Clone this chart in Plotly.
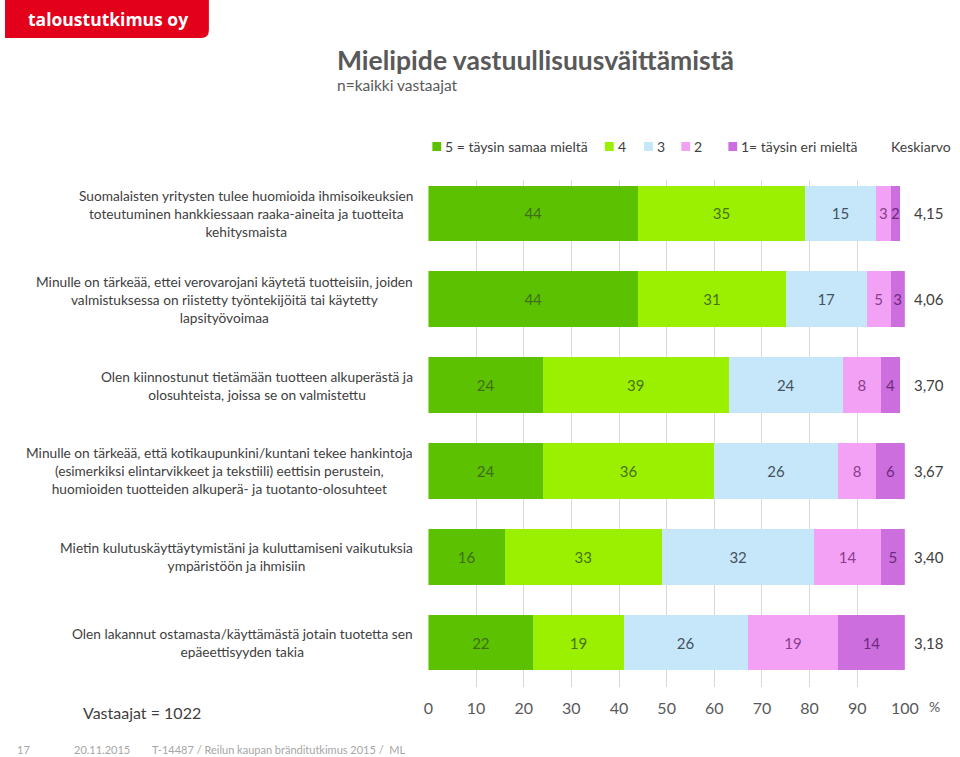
import plotly.graph_objects as go

categories = [
    "Suomalaisten yritysten tulee huomioida ihmisoikeuksien<br>toteutuminen hankkiessaan raaka-aineita ja tuotteita<br>kehitysmaista",
    "Minulle on tärkeää, ettei verovarojani käytetä tuotteisiin, joiden<br>valmistuksessa on riistetty työntekijöitä tai käytetty<br>lapsityövoimaa",
    "Olen kiinnostunut tietämään tuotteen alkuperästä ja<br>olosuhteista, joissa se on valmistettu",
    "Minulle on tärkeää, että kotikaupunkini/kuntani tekee hankintoja<br>(esimerkiksi elintarvikkeet ja tekstiili) eettisin perustein,<br>huomioiden tuotteiden alkuperä- ja tuotanto-olosuhteet",
    "Mietin kulutuskäyttäytymistäni ja kuluttamiseni vaikutuksia<br>ympäristöön ja ihmisiin",
    "Olen lakannut ostamasta/käyttämästä jotain tuotetta sen<br>epäeettisyyden takia",
]
series_names = ["5 = täysin samaa mieltä", "4", "3", "2", "1= täysin eri mieltä"]
s5 = [44, 44, 24, 24, 16, 22]
s4 = [35, 31, 39, 36, 33, 19]
s3 = [15, 17, 24, 26, 32, 26]
s2 = [3, 5, 8, 8, 14, 19]
s1 = [2, 3, 4, 6, 5, 14]
means = ["4,15", "4,06", "3,70", "3,67", "3,40", "3,18"]
mean_label = "Keskiarvo"
x_ticks = [0, 10, 20, 30, 40, 50, 60, 70, 80, 90, 100]

colors = ["#5BC100", "#9AF000", "#C6E7FA", "#F3A1F5", "#CD6EDE"]
text_colors = ["#3F6F16", "#4A7218", "#44525E", "#8A3E8C", "#6E2A7E"]

W, H = 960, 757
def px(x):
    return x / W
def py(y):
    return 1 - y / H

fig = go.Figure()
for name, vals, c, tc in zip(series_names, [s5, s4, s3, s2, s1], colors, text_colors):
    fig.add_trace(go.Bar(
        y=categories, x=vals, name=name, orientation="h",
        marker=dict(color=c, line=dict(width=0)),
        text=[str(v) for v in vals], textposition="inside",
        insidetextanchor="middle", constraintext="none",
        textfont=dict(family="Lato", size=15, color=tc),
        showlegend=False, hoverinfo="skip",
    ))

annotations = []
for cat in categories:
    annotations.append(dict(
        x=px(418), xref="paper", y=cat, yref="y", text=cat,
        xanchor="right", yanchor="middle", align="center", showarrow=False,
        font=dict(family="Lato", size=13.7, color="#404040"),
    ))
for cat, m in zip(categories, means):
    annotations.append(dict(
        x=px(925), xref="paper", y=cat, yref="y", text=m,
        xanchor="left", yanchor="middle", showarrow=False,
        font=dict(family="Lato", size=15, color="#404040"),
    ))

shapes = []
leg_x = [436, 612, 652, 690, 738]
for lx, name, c in zip(leg_x, series_names, colors):
    shapes.append(dict(type="rect", xref="paper", yref="paper",
                       x0=px(lx), x1=px(lx + 9), y0=py(151), y1=py(142),
                       fillcolor=c, line=dict(width=0)))
    annotations.append(dict(x=px(lx + 11), y=py(146.5), xref="paper", yref="paper",
                            text=name, xanchor="left", yanchor="middle", showarrow=False,
                            font=dict(family="Lato", size=14, color="#404040")))
annotations.append(dict(x=px(902), y=py(146.5), xref="paper", yref="paper",
                        text=mean_label, xanchor="left", yanchor="middle", showarrow=False,
                        font=dict(family="Lato", size=14, color="#404040")))

shapes.append(dict(type="path", xref="paper", yref="paper",
                   path=f"M {px(0)},{py(0)} L {px(208)},{py(0)} L {px(208)},{py(30)} "
                        f"Q {px(208)},{py(38)} {px(200)},{py(38)} L {px(0)},{py(38)} Z",
                   fillcolor="#E2001A", line=dict(width=0)))
annotations.append(dict(x=px(21), y=py(19), xref="paper", yref="paper",
                        text="<b>taloustutkimus oy</b>", xanchor="left", yanchor="middle",
                        showarrow=False, font=dict(family="Open Sans", size=17.5, color="white")))
annotations.append(dict(x=px(337), y=py(60), xref="paper", yref="paper",
                        text="<b>Mielipide vastuullisuusväittämistä</b>", xanchor="left", yanchor="middle",
                        showarrow=False, font=dict(family="Lato", size=26.5, color="#595959")))
annotations.append(dict(x=px(337), y=py(85), xref="paper", yref="paper",
                        text="n=kaikki vastaajat", xanchor="left", yanchor="middle",
                        showarrow=False, font=dict(family="Lato", size=15.5, color="#595959")))
annotations.append(dict(x=px(78), y=py(712), xref="paper", yref="paper",
                        text="Vastaajat = 1022", xanchor="left", yanchor="middle",
                        showarrow=False, font=dict(family="Lato", size=16, color="#404040")))
annotations.append(dict(x=px(941), y=py(706), xref="paper", yref="paper",
                        text="%", xanchor="left", yanchor="middle",
                        showarrow=False, font=dict(family="Lato", size=14, color="#595959")))
for fx, ft in [(10, "17"), (68, "20.11.2015"), (148, "T-14487 / Reilun kaupan bränditutkimus 2015 /  ML")]:
    annotations.append(dict(x=px(fx), y=py(749), xref="paper", yref="paper",
                            text=ft, xanchor="left", yanchor="middle", showarrow=False,
                            font=dict(family="Lato", size=11, color="#A6A6A6")))

fig.update_layout(
    width=W, height=H, margin=dict(l=0, r=0, t=0, b=0),
    paper_bgcolor="white", plot_bgcolor="white",
    barmode="stack", bargap=0.36,
    xaxis=dict(domain=[px(432), px(918)], range=[0, 100], tickvals=x_ticks,
               showgrid=True, gridcolor="#D9D9D9", gridwidth=1, zeroline=False,
               showline=False, ticks="", ticklabelstandoff=10,
               tickfont=dict(family="Lato", size=16, color="#595959")),
    yaxis=dict(domain=[py(687), py(180)], categoryorder="array", categoryarray=categories,
               range=[5.512, -0.384], showticklabels=False, showgrid=False, zeroline=False),
    annotations=annotations, shapes=shapes,
    uniformtext=dict(mode="show", minsize=15),
)
fig.write_html("out.html",
               post_script="document.body.style.margin='0';document.body.style.padding='0';document.body.style.overflow='hidden';")
